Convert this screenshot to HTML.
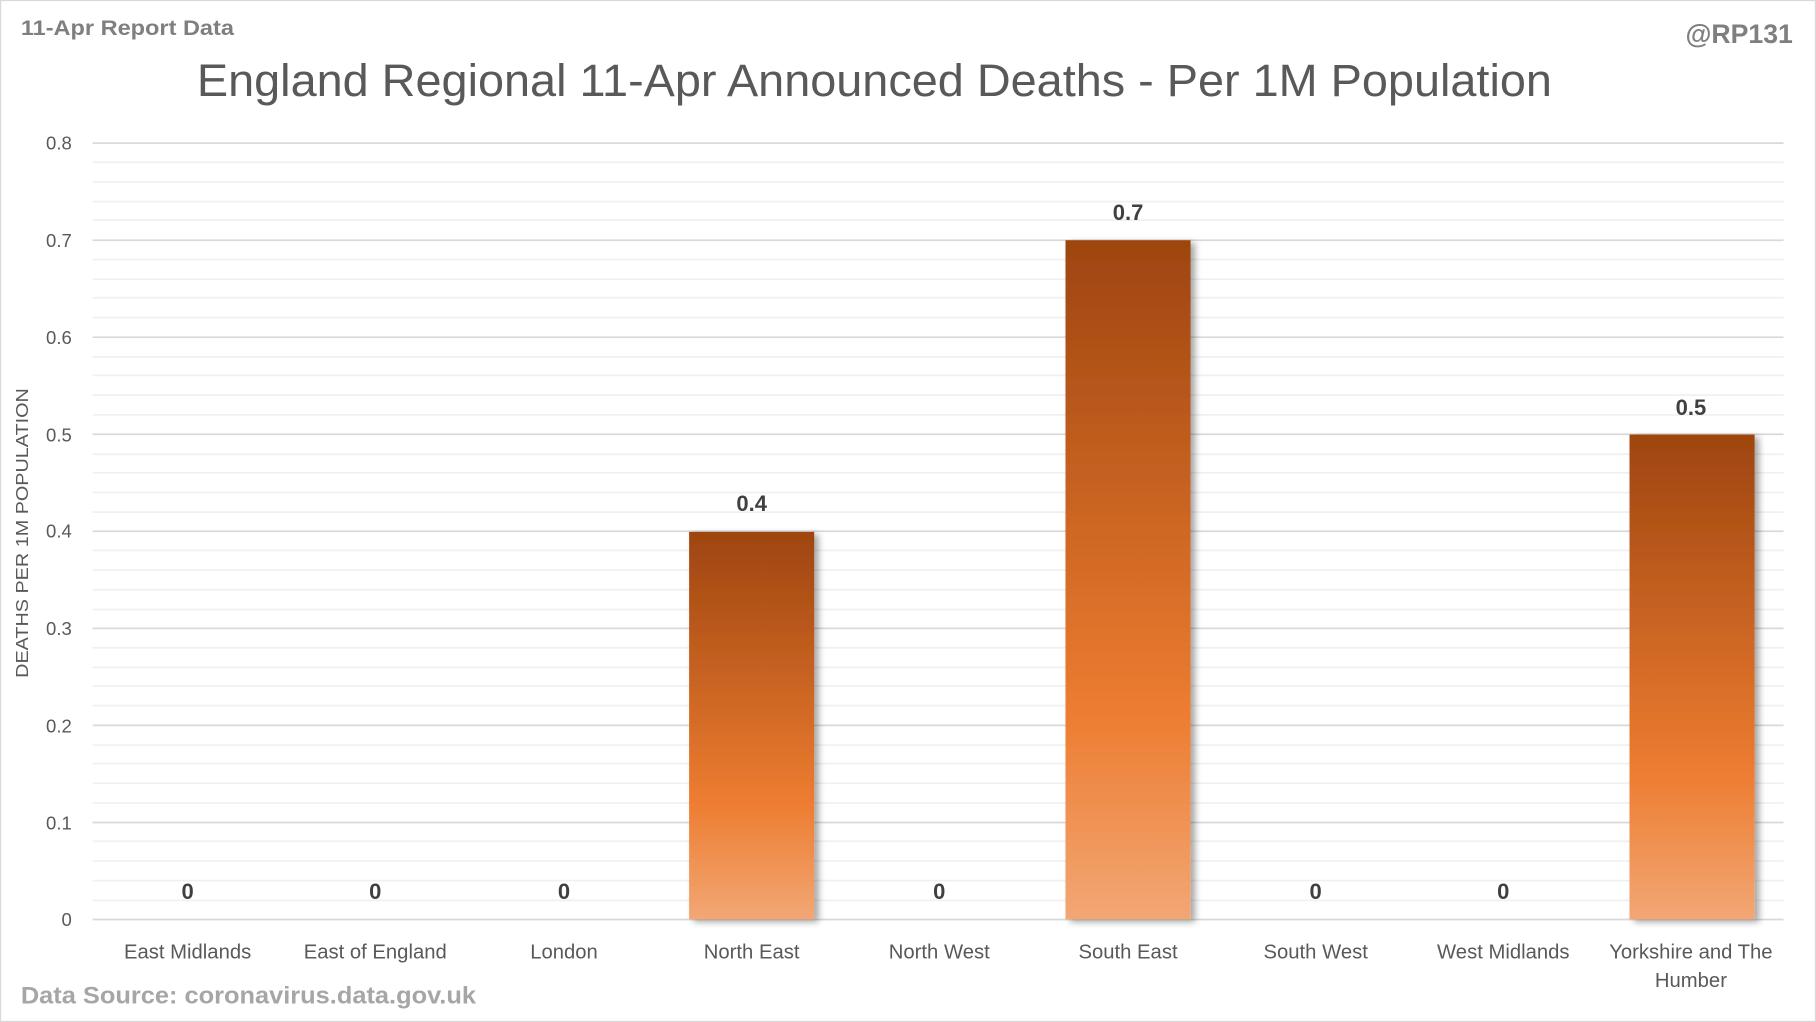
<!DOCTYPE html>
<html><head><meta charset="utf-8"><style>
html,body{margin:0;padding:0;background:#fff;}
svg{display:block;}
text{font-family:"Liberation Sans",sans-serif;}
</style></head><body>
<svg width="1816" height="1022" viewBox="0 0 1568 882" preserveAspectRatio="none" xmlns="http://www.w3.org/2000/svg">
<defs>
<linearGradient id="g" x1="0" y1="0" x2="0" y2="1">
<stop offset="0" stop-color="#9e4510"/>
<stop offset="0.7" stop-color="#ed7d31"/>
<stop offset="1" stop-color="#f2a775"/>
</linearGradient>
<filter id="sh" x="-10%" y="-5%" width="130%" height="110%"><feGaussianBlur in="SourceAlpha" stdDeviation="3"/><feOffset dx="4" dy="2"/><feComponentTransfer><feFuncA type="linear" slope="0.35"/></feComponentTransfer><feMerge><feMergeNode/><feMergeNode in="SourceGraphic"/></feMerge></filter>
</defs>
<rect x="0.5" y="0.5" width="1567" height="881" fill="#fff" stroke="#d9d9d9"/>
<g stroke="#f0f0f0" stroke-width="1.5">
<line x1="80" x2="1540" y1="140" y2="140"/><line x1="80" x2="1540" y1="157" y2="157"/><line x1="80" x2="1540" y1="174" y2="174"/><line x1="80" x2="1540" y1="190" y2="190"/>
<line x1="80" x2="1540" y1="224" y2="224"/><line x1="80" x2="1540" y1="241" y2="241"/><line x1="80" x2="1540" y1="257" y2="257"/><line x1="80" x2="1540" y1="274" y2="274"/>
<line x1="80" x2="1540" y1="308" y2="308"/><line x1="80" x2="1540" y1="324" y2="324"/><line x1="80" x2="1540" y1="341" y2="341"/><line x1="80" x2="1540" y1="358" y2="358"/>
<line x1="80" x2="1540" y1="392" y2="392"/><line x1="80" x2="1540" y1="408" y2="408"/><line x1="80" x2="1540" y1="425" y2="425"/><line x1="80" x2="1540" y1="442" y2="442"/>
<line x1="80" x2="1540" y1="475" y2="475"/><line x1="80" x2="1540" y1="492" y2="492"/><line x1="80" x2="1540" y1="509" y2="509"/><line x1="80" x2="1540" y1="526" y2="526"/>
<line x1="80" x2="1540" y1="559" y2="559"/><line x1="80" x2="1540" y1="576" y2="576"/><line x1="80" x2="1540" y1="592" y2="592"/><line x1="80" x2="1540" y1="609" y2="609"/>
<line x1="80" x2="1540" y1="643" y2="643"/><line x1="80" x2="1540" y1="659" y2="659"/><line x1="80" x2="1540" y1="676" y2="676"/><line x1="80" x2="1540" y1="693" y2="693"/>
<line x1="80" x2="1540" y1="726" y2="726"/><line x1="80" x2="1540" y1="743" y2="743"/><line x1="80" x2="1540" y1="760" y2="760"/><line x1="80" x2="1540" y1="777" y2="777"/>
</g>
<g stroke="#d9d9d9" stroke-width="1.5">
<line x1="80" x2="1540" y1="123.5" y2="123.5"/><line x1="80" x2="1540" y1="207.3" y2="207.3"/><line x1="80" x2="1540" y1="291" y2="291"/><line x1="80" x2="1540" y1="374.8" y2="374.8"/><line x1="80" x2="1540" y1="458.5" y2="458.5"/><line x1="80" x2="1540" y1="542.3" y2="542.3"/><line x1="80" x2="1540" y1="626" y2="626"/><line x1="80" x2="1540" y1="709.8" y2="709.8"/><line x1="80" x2="1540" y1="793.5" y2="793.5"/>
</g>
<g font-size="16" fill="#595959" text-anchor="end">
<text x="62" y="129">0.8</text><text x="62" y="213">0.7</text><text x="62" y="297">0.6</text><text x="62" y="381">0.5</text><text x="62" y="464">0.4</text><text x="62" y="548">0.3</text><text x="62" y="632">0.2</text><text x="62" y="716">0.1</text><text x="62" y="799">0</text>
</g>
<text transform="translate(24,460) rotate(-90)" font-size="15" fill="#595959" text-anchor="middle" textLength="250" lengthAdjust="spacingAndGlyphs">DEATHS PER 1M POPULATION</text>
<g filter="url(#sh)">
<rect x="595" y="459" width="108" height="334.5" fill="url(#g)"/>
<rect x="920" y="207.3" width="108" height="586.2" fill="url(#g)"/>
<rect x="1407" y="375" width="108" height="418.5" fill="url(#g)"/>
</g>
<g font-size="19" font-weight="bold" fill="#404040" text-anchor="middle">
<text x="162" y="776">0</text><text x="324" y="776">0</text><text x="487" y="776">0</text><text x="649" y="441">0.4</text><text x="811" y="776">0</text><text x="974" y="190">0.7</text><text x="1136" y="776">0</text><text x="1298" y="776">0</text><text x="1460" y="358">0.5</text>
</g>
<g font-size="17.5" fill="#595959" text-anchor="middle">
<text x="162" y="827">East Midlands</text><text x="324" y="827">East of England</text><text x="487" y="827">London</text><text x="649" y="827">North East</text><text x="811" y="827">North West</text><text x="974" y="827">South East</text><text x="1136" y="827">South West</text><text x="1298" y="827">West Midlands</text><text x="1460" y="827">Yorkshire and The</text><text x="1460" y="852">Humber</text>
</g>
<text x="170" y="83" font-size="39" fill="#595959" textLength="1170" lengthAdjust="spacingAndGlyphs">England Regional 11-Apr Announced Deaths - Per 1M Population</text>
<text x="18" y="30" font-size="18" font-weight="bold" fill="#7f7f7f" textLength="184" lengthAdjust="spacingAndGlyphs">11-Apr Report Data</text>
<text x="1548" y="37" font-size="23" font-weight="bold" fill="#7f7f7f" text-anchor="end">@RP131</text>
<text x="18" y="866" font-size="21" font-weight="bold" fill="#a6a6a6" textLength="393" lengthAdjust="spacingAndGlyphs">Data Source: coronavirus.data.gov.uk</text>
</svg>
</body></html>
